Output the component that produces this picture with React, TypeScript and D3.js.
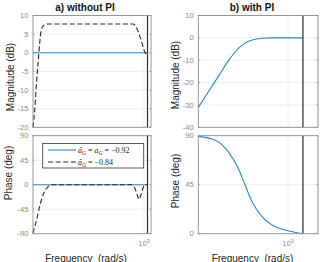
import React, { useEffect, useRef } from 'react';
import * as d3 from 'd3';

// Frequency limits of the two columns (rad/s) and the Nyquist frequency
const freqLimA = [1e-16, 10];
const freqLimB = [1e-3, 10];
const nyquist = Math.PI;

const magLimA = [-20, 10];
const phaseLimA = [-90, 90];
const magLimB = [-40, 10];
const phaseLimB = [0, 90];

const magTicksA = [10, 5, 0, -5, -10, -15, -20];
const phaseTicksA = [90, 45, 0, -45, -90];
const magTicksB = [10, 0, -10, -20, -30, -40];
const phaseTicksB = [90, 45, 0];
const freqTicks = [1];

// a) without PI: matched estimate (solid) and mismatched estimate (dashed)
const freqA_solid = [1e-16, Math.PI];
const magA_solid = [0, 0];
const phaseA_solid = [0, 0];

const freqA_magDash = [1e-16, 1.74e-16, 2.95e-16, 5.25e-16, 9.1e-16, 1.55e-15, 3.8e-15, 1.45e-14, 0.0257, 0.049, 0.148, 0.457, 0.98, 2.4, Math.PI];
const magA_dash = [-20, -15.4, -9.1, -2.9, 2.5, 6.1, 7.4, 7.7, 7.7, 7.4, 5.6, 2.9, 0.7, -0.4, -0.2];

const freqA_phaseDash = [1e-16, 3.16e-16, 9.1e-16, 2.75e-15, 8.7e-15, 2.8e-14, 7.6e-14, 0.0166, 0.049, 0.0955, 0.186, 0.363, 0.776, 1.26, Math.PI];
const phaseA_dash = [-89, -65, -40, -19, -7, -1, 0, 0, -7, -17, -27, -18, -5, 0, 0];

// b) with PI
const freqB_mag = [0.001, 0.0022, 0.0048, 0.0103, 0.0152, 0.0223, 0.0327, 0.0481, 0.0805, 0.135, 0.292, 1, Math.PI];
const magB = [-31.2, -24.0, -17.0, -10.1, -7.1, -4.6, -2.8, -1.5, -0.6, -0.2, 0, 0, 0];

const freqB_phase = [0.001, 0.0037, 0.0103, 0.0223, 0.0353, 0.0625, 0.135, 0.376, 1.05, Math.PI];
const phaseB = [89.4, 85.9, 74.9, 59.2, 45.9, 29.3, 15.7, 6.3, 2.5, 0];

const BLUE = '#2f86c6';
const DARK = '#262626';

type Curve = { f: number[]; v: number[]; color: string; dash?: string };
type Panel = {
  x0: number; x1: number; y0: number; y1: number;
  fLim: number[]; vLim: number[]; yTicks: number[];
  curves: Curve[];
  xLabels?: boolean;
};

export default function App() {
  const svgRef = useRef<SVGSVGElement>(null);

  useEffect(() => {
    if (!svgRef.current) return;
    const svg = d3.select(svgRef.current);
    svg.selectAll('*').remove();

    const panels: Panel[] = [
      {
        x0: 33, x1: 151, y0: 15.5, y1: 127.3, fLim: freqLimA, vLim: magLimA, yTicks: magTicksA,
        curves: [
          { f: freqA_solid, v: magA_solid, color: BLUE },
          { f: freqA_magDash, v: magA_dash, color: DARK, dash: '5,2.6' },
        ],
      },
      {
        x0: 33, x1: 151, y0: 135.7, y1: 233.7, fLim: freqLimA, vLim: phaseLimA, yTicks: phaseTicksA,
        curves: [
          { f: freqA_solid, v: phaseA_solid, color: BLUE },
          { f: freqA_phaseDash, v: phaseA_dash, color: DARK, dash: '5,2.6' },
        ],
        xLabels: true,
      },
      {
        x0: 198.3, x1: 318, y0: 15.5, y1: 127.3, fLim: freqLimB, vLim: magLimB, yTicks: magTicksB,
        curves: [{ f: freqB_mag, v: magB, color: BLUE }],
      },
      {
        x0: 198.3, x1: 318, y0: 135.7, y1: 233.7, fLim: freqLimB, vLim: phaseLimB, yTicks: phaseTicksB,
        curves: [{ f: freqB_phase, v: phaseB, color: BLUE }],
        xLabels: true,
      },
    ];

    panels.forEach((p) => {
      const x = d3.scaleLog().domain(p.fLim).range([p.x0, p.x1]);
      const y = d3.scaleLinear().domain(p.vLim).range([p.y1, p.y0]);
      const g = svg.append('g');

      g.append('rect')
        .attr('x', p.x0).attr('y', p.y0)
        .attr('width', p.x1 - p.x0).attr('height', p.y1 - p.y0)
        .attr('fill', '#fff');

      // grid
      g.selectAll('.hgrid')
        .data(p.yTicks.filter((t) => t !== p.vLim[0] && t !== p.vLim[1]))
        .enter().append('line')
        .attr('x1', p.x0).attr('x2', p.x1)
        .attr('y1', (d) => y(d)).attr('y2', (d) => y(d))
        .attr('stroke', '#e6e6e6').attr('stroke-width', 0.7);
      g.selectAll('.vgrid')
        .data(freqTicks)
        .enter().append('line')
        .attr('x1', (d) => x(d)).attr('x2', (d) => x(d))
        .attr('y1', p.y0).attr('y2', p.y1)
        .attr('stroke', '#e6e6e6').attr('stroke-width', 0.7);

      // curves
      p.curves.forEach((c) => {
        const pts = c.f.map((f, i) => [f, c.v[i]] as [number, number]);
        const line = d3.line<[number, number]>()
          .x((d) => x(d[0]))
          .y((d) => y(d[1]))
          .curve(d3.curveMonotoneX);
        g.append('path')
          .attr('d', line(pts))
          .attr('fill', 'none')
          .attr('stroke', c.color)
          .attr('stroke-width', 1.1)
          .attr('stroke-dasharray', c.dash ?? null);
      });

      // Nyquist frequency
      g.append('line')
        .attr('x1', x(nyquist)).attr('x2', x(nyquist))
        .attr('y1', p.y0).attr('y2', p.y1)
        .attr('stroke', '#2b2b2b').attr('stroke-width', 1.2);

      // box and inward ticks
      g.append('rect')
        .attr('x', p.x0).attr('y', p.y0)
        .attr('width', p.x1 - p.x0).attr('height', p.y1 - p.y0)
        .attr('fill', 'none').attr('stroke', '#8a8a8a').attr('stroke-width', 0.9);
      p.yTicks.forEach((t) => {
        g.append('line').attr('x1', p.x0).attr('x2', p.x0 + 1.5)
          .attr('y1', y(t)).attr('y2', y(t)).attr('stroke', '#8a8a8a').attr('stroke-width', 0.8);
        g.append('line').attr('x1', p.x1 - 1.5).attr('x2', p.x1)
          .attr('y1', y(t)).attr('y2', y(t)).attr('stroke', '#8a8a8a').attr('stroke-width', 0.8);
      });

      // y tick labels
      g.selectAll('.ylab')
        .data(p.yTicks)
        .enter().append('text')
        .attr('x', p.x0 - 4.6)
        .attr('y', (d) => y(d))
        .attr('dy', '0.35em')
        .attr('text-anchor', 'end')
        .style('font-family', 'Liberation Sans, Arial, sans-serif')
        .style('font-size', '7.5px')
        .style('fill', '#8a8a8a')
        .text((d) => String(d));

      if (p.xLabels) {
        freqTicks.forEach((t) => {
          const txt = g.append('text')
            .attr('x', x(t)).attr('y', 246)
            .attr('text-anchor', 'middle')
            .style('font-family', 'Liberation Sans, Arial, sans-serif')
            .style('font-size', '7.5px')
            .style('fill', '#8a8a8a');
          txt.append('tspan').text('10');
          txt.append('tspan').attr('dy', -3.5).style('font-size', '5.5px').text(String(Math.round(Math.log10(t))));
        });
      }
    });

    const sans = 'Liberation Sans, Arial, sans-serif';

    // titles
    [['a) without PI', 85], ['b) with PI', 252]].forEach(([t, cx]) => {
      svg.append('text')
        .attr('x', cx as number).attr('y', 11)
        .attr('text-anchor', 'middle')
        .style('font-family', sans).style('font-size', '10px').style('font-weight', 'bold')
        .style('fill', '#111')
        .text(t as string);
    });

    // axis labels
    const yLabels: [string, number, number][] = [
      ['Magnitude (dB)', 10, 77],
      ['Phase (deg)', 8.5, 173],
      ['Magnitude (dB)', 175, 75],
      ['Phase (deg)', 175, 181],
    ];
    yLabels.forEach(([t, cx, cy]) => {
      svg.append('text')
        .attr('transform', `translate(${cx},${cy}) rotate(-90)`)
        .attr('dy', '0.35em')
        .attr('text-anchor', 'middle')
        .style('font-family', sans).style('font-size', '10px').style('fill', '#262626')
        .text(t);
    });
    [86, 252.5].forEach((cx) => {
      svg.append('text')
        .attr('x', cx).attr('y', 261.5)
        .attr('text-anchor', 'middle')
        .style('font-family', sans).style('font-size', '10px').style('fill', '#262626')
        .style('white-space', 'pre')
        .text('Frequency  (rad/s)');
    });

    // legend
    const lg = svg.append('g');
    lg.append('rect')
      .attr('x', 42.7).attr('y', 143.5).attr('width', 101).attr('height', 24.5)
      .attr('fill', '#fff').attr('stroke', '#333').attr('stroke-width', 0.8);
    lg.append('line').attr('x1', 48).attr('x2', 76).attr('y1', 150).attr('y2', 150)
      .attr('stroke', BLUE).attr('stroke-width', 1.1);
    lg.append('line').attr('x1', 48).attr('x2', 76).attr('y1', 162).attr('y2', 162)
      .attr('stroke', DARK).attr('stroke-width', 1.1).attr('stroke-dasharray', '5,2.6');

    const serif = 'Liberation Serif, Times New Roman, serif';
    const mathText = (yy: number, parts: [string, boolean, boolean][]) => {
      const t = lg.append('text').attr('x', 78).attr('y', yy)
        .style('font-family', serif).style('font-size', '8px').style('fill', '#222')
        .style('white-space', 'pre');
      let sub = false;
      parts.forEach(([s, italic, isSub]) => {
        const ts = t.append('tspan').text(s).style('font-style', italic ? 'italic' : 'normal');
        if (isSub && !sub) ts.attr('dy', 1.8).style('font-size', '5.5px');
        else if (!isSub && sub) ts.attr('dy', -1.8);
        if (isSub) ts.style('font-size', '5.5px');
        sub = isSub;
      });
    };
    mathText(152.8, [
      ['â', true, false], ['G', true, true], [' = ', false, false],
      ['a', true, false], ['G', true, true], [' = −0.92', false, false],
    ]);
    mathText(164.8, [
      ['â', true, false], ['G', true, true], [' = −0.84', false, false],
    ]);
  }, []);

  return (
    <svg
      ref={svgRef}
      width={323}
      height={262}
      style={{ position: 'absolute', left: 0, top: 0, background: '#fff' }}
    />
  );
}
